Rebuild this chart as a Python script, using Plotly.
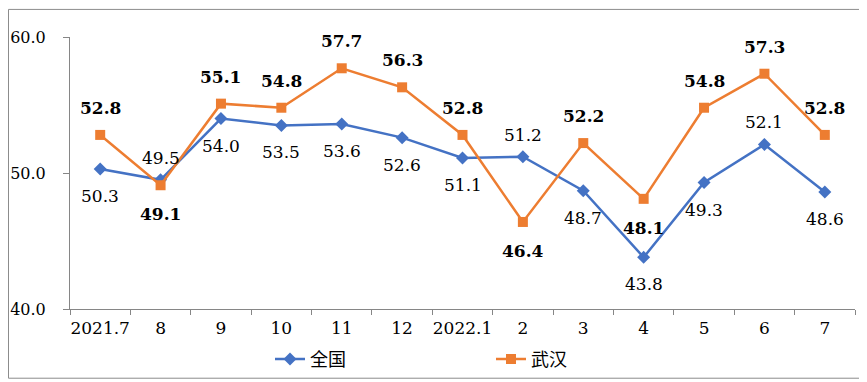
import plotly.graph_objects as go

categories = ["2021.7", "8", "9", "10", "11", "12", "2022.1", "2", "3", "4", "5", "6", "7"]
national = [50.3, 49.5, 54.0, 53.5, 53.6, 52.6, 51.1, 51.2, 48.7, 43.8, 49.3, 52.1, 48.6]
wuhan = [52.8, 49.1, 55.1, 54.8, 57.7, 56.3, 52.8, 46.4, 52.2, 48.1, 54.8, 57.3, 52.8]
national_label_side = ["below", "above", "below", "below", "below", "below", "below",
                       "above", "below", "below", "below", "above", "below"]
wuhan_label_side = ["above", "below", "above", "above", "above", "above", "above",
                    "below", "above", "below", "above", "above", "above"]
y_ticks = [40, 50, 60]

W, H = 867, 382
ML, MR, MT, MB = 62, 20, 29, 72
PW, PH = W - ML - MR, H - MT - MB

SERIF = "DejaVu Serif"
CJK = "Noto Sans CJK SC"
BLUE = "#4472C4"
ORANGE = "#ED7D31"
AXIS = "#868686"

fig = go.Figure()
fig.add_trace(go.Scatter(
    x=categories, y=national, name="全国", mode="lines+markers",
    line=dict(color=BLUE, width=2.5),
    marker=dict(symbol="diamond", size=10, color=BLUE),
))
fig.add_trace(go.Scatter(
    x=categories, y=wuhan, name="武汉", mode="lines+markers",
    line=dict(color=ORANGE, width=2.5),
    marker=dict(symbol="square", size=10, color=ORANGE),
))

annotations = []
for i, (v, side) in enumerate(zip(national, national_label_side)):
    annotations.append(dict(
        x=i, y=v, xref="x", yref="y", text=f"{v:.1f}", showarrow=False,
        yshift=(22 if side == "above" else -27),
        font=dict(family=SERIF, size=17, color="#000000"),
    ))
for i, (v, side) in enumerate(zip(wuhan, wuhan_label_side)):
    annotations.append(dict(
        x=i, y=v, xref="x", yref="y", text=f"<b>{v:.1f}</b>", showarrow=False,
        yshift=(27 if side == "above" else -29),
        font=dict(family=SERIF, size=17, color="#000000"),
    ))

fig.update_layout(
    width=W, height=H,
    margin=dict(l=ML, r=MR, t=MT, b=MB, pad=0),
    paper_bgcolor="white", plot_bgcolor="white",
    font=dict(family=SERIF, size=17, color="#000000"),
    showlegend=True,
    legend=dict(
        orientation="h", xanchor="left", yanchor="middle",
        x=(262 - ML) / PW, y=-(362 - MT - PH) / PH,
        entrywidth=176, entrywidthmode="pixels",
        font=dict(family=CJK, size=18, color="#000000"),
        bgcolor="rgba(0,0,0,0)",
    ),
    xaxis=dict(
        type="category", showgrid=False, zeroline=False, automargin=False,
        showline=True, linecolor=AXIS, linewidth=1,
        ticks="outside", ticklen=5, tickcolor=AXIS, tickson="boundaries",
        tickfont=dict(family=SERIF, size=17, color="#000000"),
        tickangle=0, ticklabelstandoff=4,
        range=[-0.5, len(categories) - 0.5],
    ),
    yaxis=dict(
        range=[40, 60], tickvals=y_ticks, tickformat=".1f", automargin=False,
        showgrid=False, zeroline=False,
        showline=True, linecolor=AXIS, linewidth=1,
        ticks="outside", ticklen=6, tickcolor=AXIS,
        tickfont=dict(family=SERIF, size=16, color="#000000"),
        ticklabelstandoff=14,
    ),
    annotations=annotations,
    shapes=[dict(
        type="rect", xref="paper", yref="paper",
        x0=-(ML - 0.5) / PW, x1=1 + (MR - 0.5) / PW,
        y0=-(MB - 0.5) / PH, y1=1 + (MT - 0.5) / PH,
        line=dict(color="#8c8c8c", width=1), fillcolor="rgba(0,0,0,0)",
        layer="below",
    )],
)

fig.write_html("out.html")
